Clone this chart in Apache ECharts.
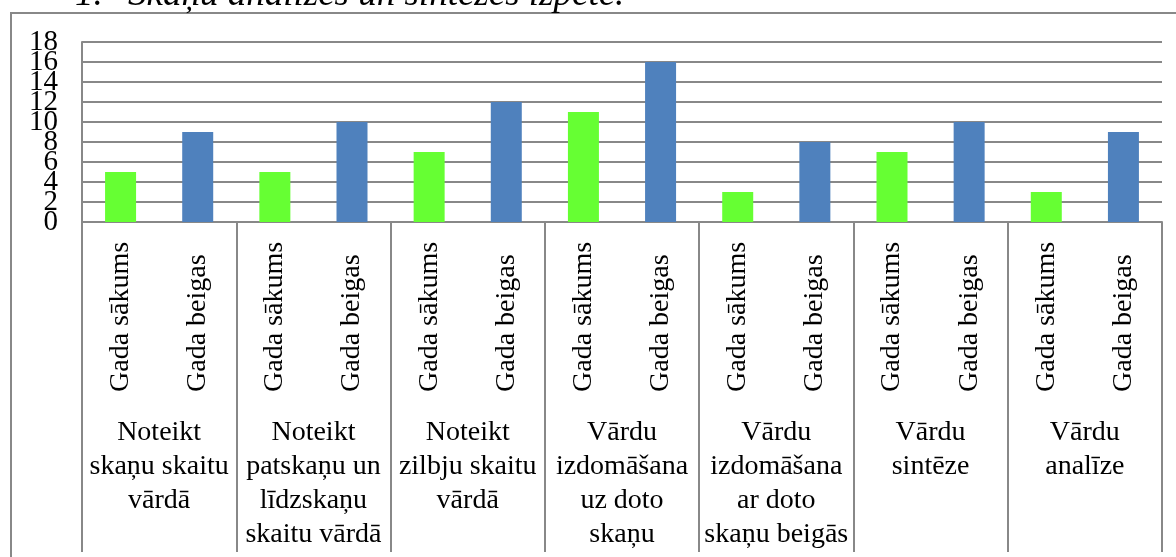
<!DOCTYPE html>
<html>
<head>
<meta charset="utf-8">
<script src="https://cdn.jsdelivr.net/npm/echarts@6/dist/echarts.min.js"></script>
<style>
  html, body { margin: 0; padding: 0; background: #fff; }
  #chart { width: 1176px; height: 557px; }
</style>
</head>
<body>
<div id="chart"></div>
<script>
// grupas (apakšējais līmenis)
const groups = [
  'Noteikt\nskaņu skaitu\nvārdā',
  'Noteikt\npatskaņu un\nlīdzskaņu\nskaitu vārdā',
  'Noteikt\nzilbju skaitu\nvārdā',
  'Vārdu\nizdomāšana\nuz doto\nskaņu',
  'Vārdu\nizdomāšana\nar doto\nskaņu beigās',
  'Vārdu\nsintēze',
  'Vārdu\nanalīze',
]
const periods = ['Gada sākums', 'Gada beigas']
const sakums = [5, 5, 7, 11, 3, 7, 3]
const beigas = [9, 10, 12, 16, 8, 10, 9]
const yTicks = [0, 2, 4, 6, 8, 10, 12, 14, 16, 18]

const FONT = '"Liberation Serif", "Times New Roman", serif'
const GRID = '#888888'
const GREEN = '#66FF33'
const BLUE = '#4F81BD'

const innerCats = groups.flatMap(() => periods)
const dataStart = sakums.flatMap(v => [v, '-'])
const dataEnd = beigas.flatMap(v => ['-', v])

const yMin = yTicks[0]
const yMax = yTicks[yTicks.length - 1]
const yStep = yTicks[1] - yTicks[0]

// labels overlap (20px apart, 29px font) – split over two axes so echarts
// doesn't drop the ones next to min/max
const yLabel = (even) => ({
  margin: 24, fontSize: 29, fontFamily: FONT, color: '#000',
  showMinLabel: even, showMaxLabel: !even,
  formatter: v => ((v / yStep) % 2 === 0) === even ? String(v) : '',
})

const chart = echarts.init(document.getElementById('chart'), null, { renderer: 'canvas' })

chart.setOption({
  backgroundColor: '#fff',
  animation: false,
  textStyle: { fontFamily: FONT, color: '#000' },
  graphic: [
    {
      type: 'rect', z: 0, silent: true,
      shape: { x: 11, y: 13, width: 1400, height: 800 },
      style: { fill: 'none', stroke: GRID, lineWidth: 2 },
    },
    {
      type: 'text', x: 75, y: -5, silent: true,
      style: { text: '1.', font: 'italic 37px ' + FONT, fill: '#000', verticalAlign: 'middle' },
    },
    {
      type: 'text', x: 128, y: -5, silent: true,
      style: { text: 'Skaņu analīzes un sintēzes izpēte.', font: 'italic 37px ' + FONT, fill: '#000', verticalAlign: 'middle' },
    },
  ],
  grid: { left: 82, right: 14, top: 42, bottom: 335, containLabel: false },
  xAxis: [
    {
      type: 'category', data: innerCats, position: 'bottom',
      axisLine: { show: false }, axisTick: { show: false },
      axisLabel: {
        interval: 0, rotate: 90, align: 'left', verticalAlign: 'middle',
        margin: 170, fontSize: 28, fontFamily: FONT, color: '#000',
      },
    },
    {
      type: 'category', data: groups, position: 'bottom',
      axisLine: { show: true, lineStyle: { color: GRID, width: 2 } },
      axisTick: { show: true, interval: 0, length: 330, lineStyle: { color: GRID, width: 2 } },
      axisLabel: {
        interval: 0, margin: 194, fontSize: 28, lineHeight: 34,
        fontFamily: FONT, color: '#000', align: 'center', verticalAlign: 'top',
      },
    },
  ],
  yAxis: [
    {
      type: 'value', min: yMin, max: yMax, interval: yStep, position: 'left',
      axisLine: { show: true, lineStyle: { color: GRID, width: 2 } },
      axisTick: { show: false },
      axisLabel: yLabel(true),
      splitLine: { show: true, lineStyle: { color: GRID, width: 2 } },
    },
    {
      type: 'value', min: yMin, max: yMax, interval: yStep, position: 'left', offset: 0,
      axisLine: { show: false }, axisTick: { show: false },
      axisLabel: yLabel(false),
      splitLine: { show: false },
    },
  ],
  series: [
    {
      name: periods[0], type: 'bar', xAxisIndex: 0, yAxisIndex: 0, barWidth: 31, barGap: '-100%',
      data: dataStart, itemStyle: { color: GREEN },
    },
    {
      name: periods[1], type: 'bar', xAxisIndex: 0, yAxisIndex: 0, barWidth: 31, barGap: '-100%',
      data: dataEnd, itemStyle: { color: BLUE },
    },
  ],
})
</script>
</body>
</html>
